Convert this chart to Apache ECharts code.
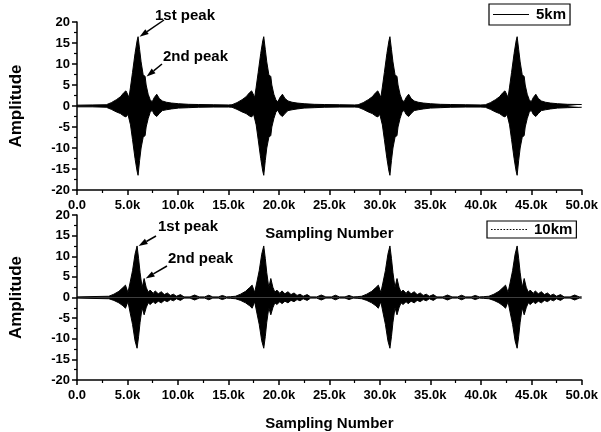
<!DOCTYPE html>
<html><head><meta charset="utf-8">
<script src="https://cdn.jsdelivr.net/npm/echarts@6/dist/echarts.min.js"></script>
<style>html,body{margin:0;padding:0;background:#fff}#c{width:601px;height:432px}</style>
</head><body><div id="c"></div>
<script>
// Tick settings / labels
const X_MIN = 0, X_MAX = 50000, X_STEP = 5000;
const Y_MIN = -20, Y_MAX = 20, Y_STEP = 5;
const X_TITLE = 'Sampling Number';
const Y_TITLE = 'Amplitude';
const SERIES_NAMES = ['5km', '10km'];
const PEAK_LABELS = ['1st peak', '2nd peak'];
const TOP_PEAKS = [[6050, 16.5], [6750, 7.0]];
const BOTTOM_PEAKS = [[5950, 12.5], [6650, 4.6]];

// Envelope of the 5km signal: [sample, upper, lower]
const TOP_ENVELOPE = [
 [0,0.2,-0.2],[1500,0.25,-0.2],[2900,0.3,-0.3],[3400,0.8,-0.8],[3900,1.5,-1.4],[4300,2.2,-1.8],
 [4650,3.2,-2.4],[4850,3.6,-2.6],[5050,2.6,-2.0],[5150,2.0,-2.2],[5300,4.5,-4.5],[5500,8.0,-8.0],
 [5750,12.5,-12.5],[5950,15.5,-15.5],[6050,16.5,-16.5],[6200,13.5,-13.0],[6350,10.5,-10.0],
 [6550,7.5,-7.5],[6750,7.0,-7.0],[6850,5.0,-5.0],[7050,2.8,-3.0],[7250,1.5,-1.5],[7450,1.0,-1.0],
 [7650,2.0,-2.0],[7900,2.8,-2.5],[8150,1.8,-1.8],[8450,1.2,-1.1],[8850,0.9,-0.9],[9350,0.7,-0.7],
 [10050,0.55,-0.5],[11050,0.4,-0.4],[12050,0.35,-0.3],[13500,0.3,-0.25],[15000,0.25,-0.25],
 [15350,0.3,-0.3],[15850,0.8,-0.8],[16350,1.5,-1.4],[16750,2.2,-1.8],[17100,3.2,-2.4],
 [17300,3.6,-2.6],[17500,2.6,-2.0],[17600,2.0,-2.2],[17750,4.5,-4.5],[17950,8.0,-8.0],
 [18200,12.5,-12.5],[18400,15.5,-15.5],[18500,16.5,-16.5],[18650,13.5,-13.0],[18800,10.5,-10.0],
 [19000,7.5,-7.5],[19200,7.0,-7.0],[19300,5.0,-5.0],[19500,2.8,-3.0],[19700,1.5,-1.5],
 [19900,1.0,-1.0],[20100,2.0,-2.0],[20350,2.8,-2.5],[20600,1.8,-1.8],[20900,1.2,-1.1],
 [21300,0.9,-0.9],[21800,0.7,-0.7],[22500,0.55,-0.5],[23500,0.4,-0.4],[24500,0.35,-0.3],
 [26000,0.3,-0.25],[27500,0.25,-0.25],
 [27850,0.3,-0.3],[28350,0.8,-0.8],[28850,1.5,-1.4],[29250,2.2,-1.8],[29600,3.2,-2.4],
 [29800,3.6,-2.6],[30000,2.6,-2.0],[30100,2.0,-2.2],[30250,4.5,-4.5],[30450,8.0,-8.0],
 [30700,12.5,-12.5],[30900,15.5,-15.5],[31000,16.5,-16.5],[31150,13.5,-13.0],[31300,10.5,-10.0],
 [31500,7.5,-7.5],[31700,7.0,-7.0],[31800,5.0,-5.0],[32000,2.8,-3.0],[32200,1.5,-1.5],
 [32400,1.0,-1.0],[32600,2.0,-2.0],[32850,2.8,-2.5],[33100,1.8,-1.8],[33400,1.2,-1.1],
 [33800,0.9,-0.9],[34300,0.7,-0.7],[35000,0.55,-0.5],[36000,0.4,-0.4],[37000,0.35,-0.3],
 [38500,0.3,-0.25],[40000,0.25,-0.25],
 [40450,0.3,-0.3],[40950,0.8,-0.8],[41450,1.5,-1.4],[41850,2.2,-1.8],[42200,3.2,-2.4],
 [42400,3.6,-2.6],[42600,2.6,-2.0],[42700,2.0,-2.2],[42850,4.5,-4.5],[43050,8.0,-8.0],
 [43300,12.5,-12.5],[43500,15.5,-15.5],[43600,16.5,-16.5],[43750,13.5,-13.0],[43900,10.5,-10.0],
 [44100,7.5,-7.5],[44300,7.0,-7.0],[44400,5.0,-5.0],[44600,2.8,-3.0],[44800,1.5,-1.5],
 [45000,1.0,-1.0],[45200,2.0,-2.0],[45450,2.8,-2.5],[45700,1.8,-1.8],[46000,1.2,-1.1],
 [46400,0.9,-0.9],[46900,0.7,-0.7],[47600,0.55,-0.5],[48600,0.4,-0.4],[50000,0.35,-0.3]
];

// Envelope of the 10km signal: [sample, upper, lower]
const BOTTOM_ENVELOPE = [
 [0,0.15,-0.15],[3150,0.3,-0.3],[3650,0.8,-0.7],[4150,1.5,-1.3],[4550,2.4,-2.0],[4800,3.0,-2.6],
 [5050,1.2,-1.0],[5250,3.5,-3.5],[5500,6.5,-6.5],[5750,10.5,-10.5],[5950,12.5,-12.3],[6100,9.5,-9.5],
 [6250,6.0,-6.0],[6450,2.4,-2.5],[6650,4.6,-4.2],[6850,2.5,-2.5],[7050,1.3,-1.3],[7250,1.8,-1.7],
 [7550,1.0,-1.0],[7750,1.6,-1.5],[8050,0.9,-0.9],[8350,1.4,-1.3],[8650,0.7,-0.7],[8950,1.1,-1.0],
 [9250,0.5,-0.5],[9550,0.8,-0.8],[9850,0.3,-0.3],[10250,0.7,-0.7],[10600,0.15,-0.15],
 [11200,0.15,-0.15],[11650,0.6,-0.6],[12100,0.15,-0.15],[12650,0.15,-0.15],[13050,0.55,-0.55],
 [13450,0.15,-0.15],[14000,0.15,-0.15],[14400,0.5,-0.5],[14800,0.15,-0.15],[15200,0.2,-0.2],
 [15700,0.3,-0.3],[16200,0.8,-0.7],[16700,1.5,-1.3],[17100,2.4,-2.0],[17350,3.0,-2.6],
 [17600,1.2,-1.0],[17800,3.5,-3.5],[18050,6.5,-6.5],[18300,10.5,-10.5],[18500,12.5,-12.3],
 [18650,9.5,-9.5],[18800,6.0,-6.0],[19000,2.4,-2.5],[19200,4.6,-4.2],[19400,2.5,-2.5],
 [19600,1.3,-1.3],[19800,1.8,-1.7],[20100,1.0,-1.0],[20300,1.6,-1.5],[20600,0.9,-0.9],
 [20900,1.4,-1.3],[21200,0.7,-0.7],[21500,1.1,-1.0],[21800,0.5,-0.5],[22100,0.8,-0.8],
 [22400,0.3,-0.3],[22800,0.7,-0.7],[23150,0.15,-0.15],[23750,0.15,-0.15],[24200,0.6,-0.6],
 [24650,0.15,-0.15],[25200,0.15,-0.15],[25600,0.55,-0.55],[26000,0.15,-0.15],[26550,0.15,-0.15],
 [26950,0.5,-0.5],[27350,0.15,-0.15],[27750,0.2,-0.2],
 [28200,0.3,-0.3],[28700,0.8,-0.7],[29200,1.5,-1.3],[29600,2.4,-2.0],[29850,3.0,-2.6],
 [30100,1.2,-1.0],[30300,3.5,-3.5],[30550,6.5,-6.5],[30800,10.5,-10.5],[31000,12.5,-12.3],
 [31150,9.5,-9.5],[31300,6.0,-6.0],[31500,2.4,-2.5],[31700,4.6,-4.2],[31900,2.5,-2.5],
 [32100,1.3,-1.3],[32300,1.8,-1.7],[32600,1.0,-1.0],[32800,1.6,-1.5],[33100,0.9,-0.9],
 [33400,1.4,-1.3],[33700,0.7,-0.7],[34000,1.1,-1.0],[34300,0.5,-0.5],[34600,0.8,-0.8],
 [34900,0.3,-0.3],[35300,0.7,-0.7],[35650,0.15,-0.15],[36250,0.15,-0.15],[36700,0.6,-0.6],
 [37150,0.15,-0.15],[37700,0.15,-0.15],[38100,0.55,-0.55],[38500,0.15,-0.15],[39050,0.15,-0.15],
 [39450,0.5,-0.5],[39850,0.15,-0.15],[40250,0.2,-0.2],
 [40800,0.3,-0.3],[41300,0.8,-0.7],[41800,1.5,-1.3],[42200,2.4,-2.0],[42450,3.0,-2.6],
 [42700,1.2,-1.0],[42900,3.5,-3.5],[43150,6.5,-6.5],[43400,10.5,-10.5],[43600,12.5,-12.3],
 [43750,9.5,-9.5],[43900,6.0,-6.0],[44100,2.4,-2.5],[44300,4.6,-4.2],[44500,2.5,-2.5],
 [44700,1.3,-1.3],[44900,1.8,-1.7],[45200,1.0,-1.0],[45400,1.6,-1.5],[45700,0.9,-0.9],
 [46000,1.4,-1.3],[46300,0.7,-0.7],[46600,1.1,-1.0],[46900,0.5,-0.5],[47200,0.8,-0.8],
 [47500,0.3,-0.3],[47900,0.7,-0.7],[48250,0.15,-0.15],[48850,0.15,-0.15],[49300,0.6,-0.6],
 [49750,0.15,-0.15],[50000,0.15,-0.15]
];

const FONT = 'Liberation Sans, Arial, sans-serif';
const chart = echarts.init(document.getElementById('c'), null, {renderer: 'canvas'});

function xAxis(gi) {
  return {
    type: 'value', gridIndex: gi, min: X_MIN, max: X_MAX, interval: X_STEP,
    name: X_TITLE, nameLocation: 'middle', nameGap: 36,
    nameTextStyle: {fontFamily: FONT, fontSize: 15, fontWeight: 'bold', color: '#000'},
    axisLine: {show: true, onZero: false, lineStyle: {color: '#000', width: 1.5}},
    axisTick: {show: true, length: 5, lineStyle: {color: '#000', width: 1.5}},
    minorTick: {show: true, splitNumber: 2, length: 3, lineStyle: {color: '#000', width: 1.2}},
    splitLine: {show: false},
    axisLabel: {margin: 9, fontFamily: FONT, fontSize: 13, fontWeight: 'bold', color: '#000',
      formatter: v => v === 0 ? '0.0' : (v / 1000).toFixed(1) + 'k'}
  };
}
function yAxis(gi) {
  return {
    type: 'value', gridIndex: gi, min: Y_MIN, max: Y_MAX, interval: Y_STEP,
    name: Y_TITLE, nameLocation: 'middle', nameGap: 52,
    nameTextStyle: {fontFamily: FONT, fontSize: 17, fontWeight: 'bold', color: '#000'},
    axisLine: {show: true, lineStyle: {color: '#000', width: 1.5}},
    axisTick: {show: true, length: 5, lineStyle: {color: '#000', width: 1.5}},
    minorTick: {show: true, splitNumber: 2, length: 3, lineStyle: {color: '#000', width: 1.2}},
    splitLine: {show: false},
    axisLabel: {margin: 7, fontFamily: FONT, fontSize: 13, fontWeight: 'bold', color: '#000'}
  };
}
function band(env, gi, idx) {
  return {
    type: 'line', xAxisIndex: gi, yAxisIndex: gi, silent: true, symbol: 'none',
    data: env.map(d => [d[0], d[idx]]),
    lineStyle: {color: '#000', width: 1}, areaStyle: {color: '#000', opacity: 1}
  };
}

// legend icons: a solid stroke and a dotted stroke
const SOLID_ICON = 'path://M0,0H36V1H0Z';
let dotted = 'path://';
for (let i = 0; i < 36; i += 3) dotted += 'M' + i + ',0H' + (i + 1.5) + 'V1H' + i + 'Z';
const DOTTED_ICON = dotted;

function legend(name, icon, left, top, pad) {
  return {
    data: [{name: name, icon: icon}], left: left, top: top, orient: 'horizontal', padding: pad,
    itemWidth: 36, itemHeight: 1.5, itemGap: 0, borderColor: '#000', borderWidth: 1.2,
    selectedMode: false, itemStyle: {color: '#000'},
    textStyle: {fontFamily: FONT, fontSize: 15, fontWeight: 'bold', color: '#000', padding: [0, 0, 0, 2]}
  };
}

chart.setOption({
  animation: false,
  backgroundColor: '#fff',
  grid: [
    {left: 72, right: 18, top: 22, height: 168},
    {left: 72, right: 18, top: 215, height: 166}
  ],
  xAxis: [xAxis(0), xAxis(1)],
  yAxis: [yAxis(0), yAxis(1)],
  legend: [
    legend(SERIES_NAMES[0], SOLID_ICON, 489, 4, [3, 4, 3, 4]),
    legend(SERIES_NAMES[1], DOTTED_ICON, 487, 221, [1, 4, 1, 4])
  ],
  series: [
    band(TOP_ENVELOPE, 0, 1), band(TOP_ENVELOPE, 0, 2),
    band(BOTTOM_ENVELOPE, 1, 1), band(BOTTOM_ENVELOPE, 1, 2),
    {name: SERIES_NAMES[0], type: 'line', xAxisIndex: 0, yAxisIndex: 0, data: [], symbol: 'none',
     color: '#000', lineStyle: {color: '#000', width: 1}},
    {name: SERIES_NAMES[1], type: 'line', xAxisIndex: 1, yAxisIndex: 1, data: [], symbol: 'none',
     color: '#000', lineStyle: {color: '#000', width: 1, type: 'dotted'}}
  ]
});

// Peak annotations: arrows pointing at the peak data points
function arrow(tip, tail) {
  const dx = tail[0] - tip[0], dy = tail[1] - tip[1];
  const len = Math.hypot(dx, dy), ux = dx / len, uy = dy / len;
  const hl = 9, hw = 3;
  const bx = tip[0] + ux * hl, by = tip[1] + uy * hl;
  return [
    {type: 'line', shape: {x1: bx, y1: by, x2: tail[0], y2: tail[1]}, style: {stroke: '#000', lineWidth: 1.5}},
    {type: 'polygon', shape: {points: [tip, [bx - uy * hw, by + ux * hw], [bx + uy * hw, by - ux * hw]]},
     style: {fill: '#000'}}
  ];
}
function label(text, x, y) {
  return {type: 'text', x: x, y: y, style: {text: text, fontFamily: FONT, fontSize: 15, fontWeight: 'bold',
    fill: '#000', verticalAlign: 'middle'}};
}
const els = [];
const specs = [
  {gi: 0, peaks: TOP_PEAKS, texts: [[155, 16], [163, 57]], tails: [[164, 20], [162, 64]]},
  {gi: 1, peaks: BOTTOM_PEAKS, texts: [[158, 227], [168, 259]], tails: [[156, 236], [167, 266]]}
];
specs.forEach(s => {
  s.peaks.forEach((p, i) => {
    const px = chart.convertToPixel({gridIndex: s.gi}, p);
    const tip = [px[0] + 1.5, px[1]];
    arrow(tip, s.tails[i]).forEach(e => els.push(e));
    els.push(label(PEAK_LABELS[i], s.texts[i][0], s.texts[i][1]));
  });
});
chart.setOption({graphic: els});
</script>
</body></html>
